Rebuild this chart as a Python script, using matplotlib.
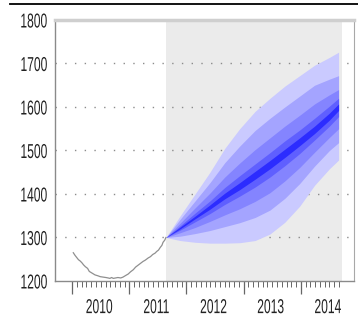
import matplotlib
matplotlib.use("Agg")
import matplotlib.pyplot as plt
from matplotlib.lines import Line2D
from matplotlib.transforms import blended_transform_factory, Affine2D
from matplotlib.patheffects import AbstractPathEffect
from matplotlib import font_manager

# ---- data -------------------------------------------------------------
# observed series (decimal years, level)
hist_t = [2010.02, 2010.05, 2010.08, 2010.11, 2010.14, 2010.17, 2010.20, 2010.23,
          2010.27, 2010.30, 2010.35, 2010.40, 2010.45, 2010.49, 2010.54, 2010.59,
          2010.63, 2010.66, 2010.69, 2010.72, 2010.76, 2010.80, 2010.85, 2010.89,
          2010.94, 2010.98, 2011.02, 2011.07, 2011.11, 2011.15, 2011.20, 2011.24,
          2011.28, 2011.33, 2011.37, 2011.41, 2011.45, 2011.48, 2011.51, 2011.54,
          2011.57, 2011.59, 2011.62, 2011.64]
hist_v = [1265, 1259, 1254, 1249, 1246, 1242, 1237, 1233, 1229, 1222, 1218, 1214,
          1212, 1210, 1209, 1208, 1207, 1206, 1208, 1206, 1207, 1208, 1207, 1209,
          1213, 1216, 1221, 1226, 1232, 1236, 1241, 1245, 1248, 1253, 1256, 1261,
          1264, 1268, 1271, 1277, 1282, 1289, 1294, 1300]

# forecast horizon and fan quantile bands
fc_t = [2011.64, 2011.89, 2012.15, 2012.41, 2012.67, 2012.93, 2013.20,
        2013.46, 2013.72, 2013.98, 2014.24, 2014.50, 2014.66]
band90_hi = [1300, 1350, 1400, 1450, 1505, 1550, 1590, 1620, 1648, 1672, 1696, 1714, 1726]
band90_lo = [1300, 1293, 1289, 1287, 1287, 1288, 1293, 1308, 1335, 1372, 1420, 1458, 1478]
band70_hi = [1300, 1342, 1384, 1426, 1472, 1510, 1546, 1574, 1600, 1625, 1650, 1664, 1672]
band70_lo = [1300, 1303, 1309, 1316, 1325, 1334, 1346, 1363, 1390, 1424, 1464, 1500, 1518]
band50_hi = [1300, 1333, 1368, 1402, 1439, 1471, 1502, 1529, 1556, 1581, 1607, 1628, 1640]
band50_lo = [1300, 1311, 1323, 1337, 1352, 1366, 1383, 1403, 1430, 1461, 1496, 1530, 1550]
band30_hi = [1300, 1327, 1356, 1384, 1415, 1442, 1469, 1495, 1522, 1547, 1574, 1602, 1620]
band30_lo = [1300, 1317, 1336, 1355, 1376, 1395, 1416, 1439, 1465, 1493, 1524, 1556, 1578]
band10_hi = [1300, 1324, 1349, 1375, 1402, 1426, 1452, 1477, 1503, 1529, 1556, 1586, 1607]
band10_lo = [1300, 1320, 1343, 1365, 1389, 1410, 1434, 1458, 1484, 1511, 1539, 1570, 1592]

y_ticks = [1200, 1300, 1400, 1500, 1600, 1700, 1800]
grid_levels = [1300, 1400, 1500, 1600, 1700]
year_ticks = [2010, 2011, 2012, 2013, 2014]
year_labels = ["2010", "2011", "2012", "2013", "2014"]


class Squeeze(AbstractPathEffect):
    """Draw text glyphs compressed horizontally about an anchor point."""

    def __init__(self, sx, anchor=0.5):
        super().__init__()
        self.sx = sx
        self.anchor = anchor

    def draw_path(self, renderer, gc, tpath, affine, rgbFace=None):
        ext = tpath.get_extents(affine)
        x0 = ext.x0 + self.anchor * ext.width
        t = affine + Affine2D().translate(-x0, 0).scale(self.sx, 1).translate(x0, 0)
        renderer.draw_path(gc, tpath, t, rgbFace)


# ---- styling ----------------------------------------------------------
available = {f.name for f in font_manager.fontManager.ttflist}
family = ["Liberation Sans", "DejaVu Sans"]
family = [f for f in family if f in available] or ["DejaVu Sans"]
plt.rcParams["font.family"] = family

LABEL_SIZE = 14.5
SQUEEZE = 0.6

fig = plt.figure(figsize=(3.58, 3.2), dpi=100)
ax = fig.add_axes([55 / 358, 1 - 281 / 320, (354 - 55) / 358, (281 - 20) / 320])

ax.set_xlim(2009.70, 2014.93)
ax.set_ylim(1200, 1800)

# shaded forecast period
ax.axvspan(fc_t[0], 2014.72, color="#ebebeb", lw=0, zorder=0)

# dotted horizontal guides
for lvl in grid_levels:
    ax.axhline(lvl, color="#8c8c8c", lw=1.0, dashes=(1, 6), zorder=1)

# fan bands, outermost first
bands = [(band90_lo, band90_hi, "#cacaff"),
         (band70_lo, band70_hi, "#a4a4ff"),
         (band50_lo, band50_hi, "#8484ff"),
         (band30_lo, band30_hi, "#5f5fff"),
         (band10_lo, band10_hi, "#2c2cff")]
for lo, hi, col in bands:
    ax.fill_between(fc_t, lo, hi, color=col, lw=0, zorder=2)

# observed history
ax.plot(hist_t, hist_v, color="#8f8f8f", lw=0.9, zorder=3)

# axes frame
for side in ("left", "bottom"):
    ax.spines[side].set_color("#8a8a8a")
    ax.spines[side].set_linewidth(1.0)
ax.spines["right"].set_color("#a8a8a8")
ax.spines["right"].set_linewidth(0.8)
ax.spines["top"].set_color("#cfcfcf")
ax.spines["top"].set_linewidth(2.5)

ax.set_yticks(y_ticks)
ax.set_yticklabels([str(v) for v in y_ticks])
ax.tick_params(axis="y", length=0, pad=5.5, labelsize=LABEL_SIZE, labelcolor="#222222")
for lab in ax.get_yticklabels():
    lab.set_path_effects([Squeeze(SQUEEZE, anchor=1.0)])

months = [y + m / 12 for y in range(2010, 2015) for m in range(1, 12)
          if y + m / 12 < 2014.7]
ax.set_xticks(year_ticks)
ax.set_xticklabels([""] * len(year_ticks))
ax.set_xticks(months, minor=True)
ax.tick_params(axis="x", which="major", length=9, width=0.9, color="#666666")
ax.tick_params(axis="x", which="minor", length=4, width=0.7, color="#666666")

trans = blended_transform_factory(ax.transData, ax.transAxes)
for yr, lab in zip(year_ticks, year_labels):
    ax.text(yr + 0.47, -0.102, lab, transform=trans, ha="center", va="center",
            fontsize=LABEL_SIZE, color="#222222",
            path_effects=[Squeeze(SQUEEZE, anchor=0.5)])

# rule across the top of the figure
fig.add_artist(Line2D([10 / 358, 1.0], [1 - 4 / 320, 1 - 4 / 320],
                      transform=fig.transFigure, color="black", lw=1.3))

fig.savefig("out.png", dpi=100)
